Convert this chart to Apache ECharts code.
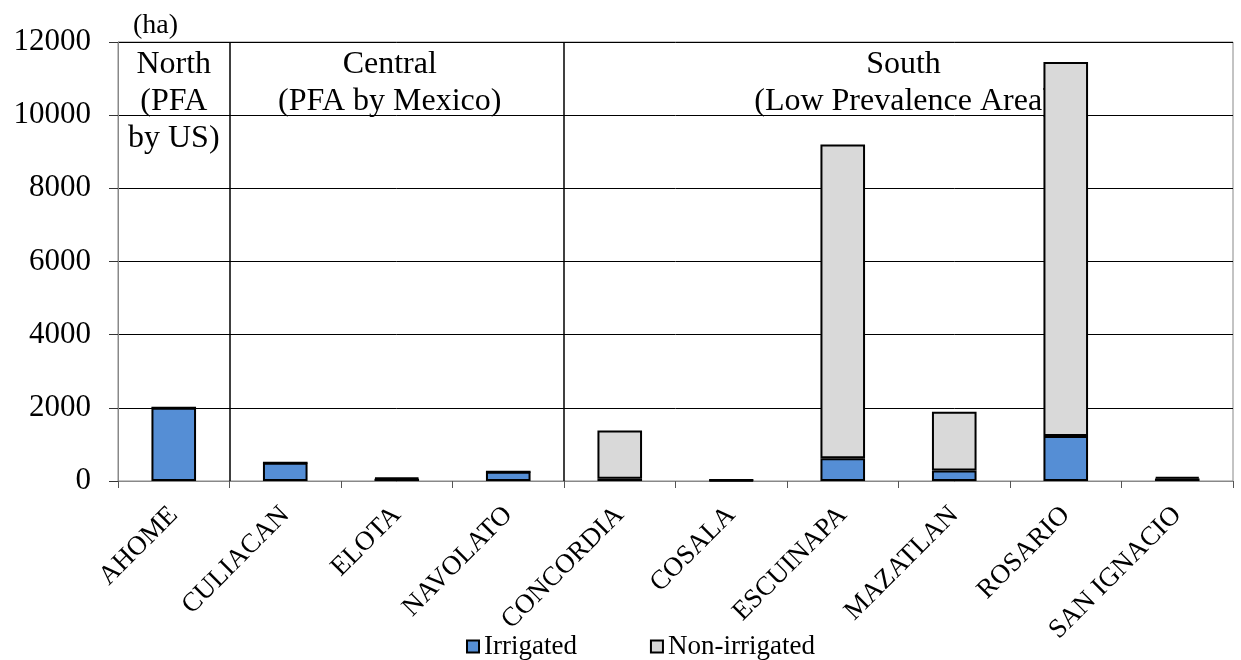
<!DOCTYPE html>
<html>
<head>
<meta charset="utf-8">
<script src="https://cdn.jsdelivr.net/npm/echarts@6/dist/echarts.min.js"></script>
<style>
html,body{margin:0;padding:0;background:#fff;}
#chart{width:1241px;height:660px;}
</style>
</head>
<body>
<div id="chart"></div>
<script>
var categories = ['AHOME','CULIACAN','ELOTA','NAVOLATO','CONCORDIA','COSALA','ESCUINAPA','MAZATLAN','ROSARIO','SAN IGNACIO'];
var irrigated = [2000, 500, 60, 250, 60, 20, 620, 290, 1230, 70];
var nonIrrigated = [0, 0, 30, 0, 1320, 10, 8580, 1600, 10220, 40];
var regionNames = ['North\n(PFA\nby US)', 'Central\n(PFA by Mexico)', 'South\n(Low Prevalence Area)'];
var regionStart = [0, 1, 4];
var regionEnd = [1, 4, 10];
var regionBoundaries = [1, 4];
var regionLabelOffsets = [[0, 0], [-7, 0], [5, 0]];

var font = 'Liberation Serif';
var chart = echarts.init(document.getElementById('chart'));
chart.setOption({
  animation: false,
  textStyle: {fontFamily: font, color: '#000'},
  grid: {left: 118, right: 8, top: 42, bottom: 179, show: true, borderColor: '#888', borderWidth: 1, backgroundColor: 'transparent'},
  legend: {
    top: 628, left: 461, itemWidth: 12, itemHeight: 12, itemGap: 73,
    icon: 'rect',
    textStyle: {fontFamily: font, fontSize: 27, color: '#000'},
    data: ['Irrigated', 'Non-irrigated']
  },
  xAxis: [{
    type: 'category', data: categories,
    axisLine: {lineStyle: {color: '#888', width: 1}},
    axisTick: {show: true, length: 7, lineStyle: {color: '#555'}},
    axisLabel: {interval: 0, rotate: 45, fontSize: 27, fontFamily: font, color: '#000', margin: 30}
  }, {
    type: 'value', min: 0, max: categories.length, show: false
  }],
  yAxis: {
    type: 'value', min: 0, max: 12000, interval: 2000,
    name: '(ha)', nameLocation: 'end', nameGap: 2,
    nameTextStyle: {fontFamily: font, fontSize: 28, color: '#000', align: 'left', padding: [0,0,0,15]},
    axisLine: {show: true, lineStyle: {color: '#888', width: 1}},
    axisTick: {show: true, length: 9, lineStyle: {color: '#333'}},
    axisLabel: {fontSize: 31, fontFamily: font, color: '#000', margin: 27, formatter: function(v){ return String(v); }},
    splitLine: {lineStyle: {color: '#000', width: 1}}
  },
  series: [{
    name: 'Irrigated', type: 'bar', stack: 'a', data: irrigated, barWidth: '40%', z: 3,
    itemStyle: {color: '#558ED5', borderColor: '#000', borderWidth: 2}
  }, {
    name: 'Non-irrigated', type: 'bar', stack: 'a', data: nonIrrigated, barWidth: '40%', z: 3,
    itemStyle: {color: '#D9D9D9', borderColor: '#000', borderWidth: 2}
  }, {
    name: 'regions', type: 'line', xAxisIndex: 1, data: [], silent: true, z: 1,
    markLine: {
      symbol: 'none', silent: true,
      label: {show: false},
      lineStyle: {color: '#000', width: 1.5, type: 'solid'},
      data: regionBoundaries.map(function(b){ return {xAxis: b}; })
    },
    markArea: {
      silent: true,
      itemStyle: {color: 'rgba(0,0,0,0)'},
      label: {show: true, position: 'insideTop', distance: 4, fontFamily: font, fontSize: 32, lineHeight: 37, color: '#000', align: 'center'},
      data: regionNames.map(function(n, i){
        return [{name: n, xAxis: regionStart[i], label: {offset: regionLabelOffsets[i]}}, {xAxis: regionEnd[i]}];
      })
    }
  }]
});
</script>
</body>
</html>
